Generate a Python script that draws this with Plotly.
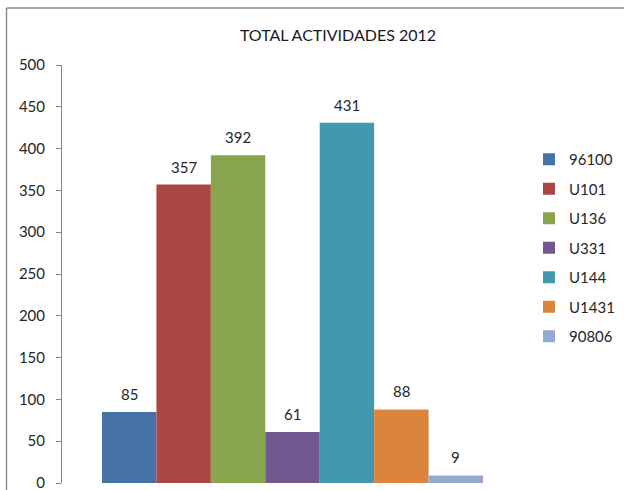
import plotly.graph_objects as go

# Activity totals per unit, 2012
units = ["96100", "U101", "U136", "U331", "U144", "U1431", "90806"]
totals = [85, 357, 392, 61, 431, 88, 9]
colors = ["#4572A7", "#AA4643", "#89A54E", "#71588F", "#4198AF", "#DB843D", "#93A9CF"]

W, H = 624, 490
L, R, T, B = 62, 101, 65, 7
pw, ph = W - L - R, H - T - B

FONT = "Lato, Calibri, sans-serif"
TXT = "#262626"

# bars sit side by side, one slot each, with a gap either side of the group
slot_px = 54.43
side_gap = 40 / slot_px
positions = list(range(len(units)))

fig = go.Figure()
annotations = []
for pos, name, val, col in zip(positions, units, totals, colors):
    fig.add_trace(go.Bar(
        x=[pos], y=[val], name=name, legendgroup=name, width=1,
        marker=dict(color=col, line=dict(width=0)),
    ))
    annotations.append(dict(
        x=pos, y=val, xref="x", yref="y", text=str(val), showarrow=False,
        yanchor="bottom", yshift=7,
        font=dict(family=FONT, size=15, color=TXT),
    ))

def px_x(p):
    return (p - L) / pw

def px_y(p):
    return (H - B - p) / ph

# outer chart-area frame (left and top edges visible)
frame = "#8E8E8E"
shapes = [
    dict(type="line", xref="paper", yref="paper",
         x0=px_x(6.5), x1=px_x(6.5), y0=px_y(8), y1=px_y(490),
         line=dict(color=frame, width=1.5)),
    dict(type="line", xref="paper", yref="paper",
         x0=px_x(6.5), x1=px_x(624), y0=px_y(8), y1=px_y(8),
         line=dict(color=frame, width=1.5)),
]

fig.update_layout(
    width=W, height=H,
    margin=dict(l=L, r=R, t=T, b=B, pad=0, autoexpand=False),
    paper_bgcolor="white", plot_bgcolor="white",
    barmode="overlay",
    font=dict(family=FONT, size=15, color=TXT),
    title=dict(text="TOTAL ACTIVIDADES 2012", x=338 / W, xanchor="center",
               xref="container", y=1 - 35 / H, yref="container", yanchor="middle",
               font=dict(family=FONT, size=16, color="#1a1a1a")),
    showlegend=True,
    legend=dict(x=px_x(529), xanchor="left", y=px_y(143), yanchor="top",
                tracegroupgap=7, font=dict(family=FONT, size=15, color=TXT),
                bgcolor="rgba(0,0,0,0)", itemclick=False),
    shapes=shapes,
    annotations=annotations,
)
fig.update_xaxes(range=[-0.5 - side_gap, len(units) - 0.5 + side_gap],
                 showticklabels=False, showline=False, showgrid=False,
                 zeroline=False, ticks="")
fig.update_yaxes(range=[0, 500], dtick=50, tick0=0, showgrid=False,
                 showline=True, linecolor="#868686", linewidth=1,
                 ticks="outside", ticklen=5, tickcolor="#868686",
                 ticklabelstandoff=8, ticklabeloverflow="allow", zeroline=False,
                 tickfont=dict(family=FONT, size=15, color=TXT))

fig.write_html("out.html")
